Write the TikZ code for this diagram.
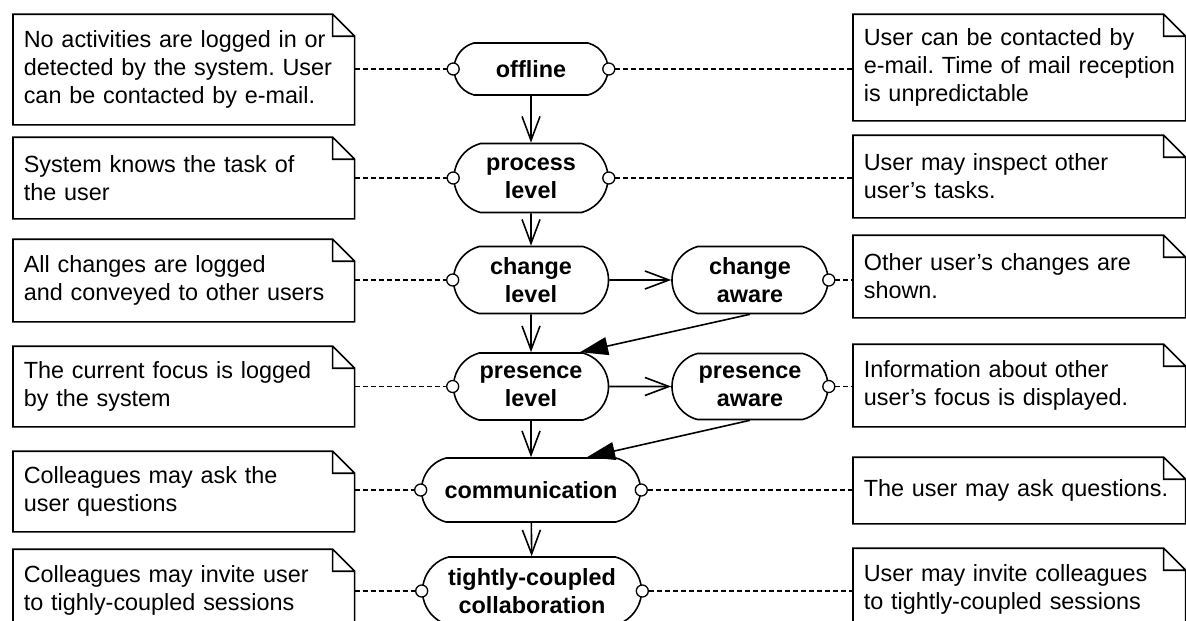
\documentclass[tikz,border=0pt]{standalone}
\usepackage{fontspec}
\setmainfont{Liberation Sans}
\usetikzlibrary{arrows.meta, shapes.misc}
\hyphenpenalty=10000

\begin{document}
\begin{tikzpicture}[x=1pt, y=-1pt, line width=1.6pt,
    font=\fontsize{23.4pt}{28pt}\selectfont\frenchspacing,
    stage/.style={rounded rectangle, rounded rectangle arc length=150, draw, align=center,
      inner sep=2pt, font=\fontsize{23.4pt}{28pt}\selectfont\bfseries},
    note/.style={rectangle, align=left, inner xsep=10pt, inner ysep=0pt},
    port/.style={circle, draw, fill=white, minimum size=12pt, inner sep=0pt, line width=1.3pt},
    link/.style={dash pattern=on 5pt off 3pt, line width=1.3pt},
    flow/.style={-{Straight Barb[length=24pt, width=18pt]}},
    back/.style={-{Triangle[length=28pt, width=18pt]}}]

  \clip (0,0) rectangle (1186,621);

  % activity stages
  \node[stage, minimum width=158pt, minimum height=52pt] (offline) at (531,69) {offline};
  \node[stage, minimum width=158pt, minimum height=69pt] (process) at (531,178) {process\\level};
  \node[stage, minimum width=159pt, minimum height=67pt] (chglevel) at (531,280) {change\\level};
  \node[stage, minimum width=160pt, minimum height=67pt] (chgaware) at (750,280) {change\\aware};
  \node[stage, minimum width=159pt, minimum height=67pt] (preslevel) at (531,386.5) {presence\\level};
  \node[stage, minimum width=160pt, minimum height=66pt] (presaware) at (750,386.5) {presence\\aware};
  \node[stage, minimum width=223pt, minimum height=64pt] (comm) at (531,490) {communication};
  \node[stage, minimum width=223pt, minimum height=68pt] (tight) at (532,591) {tightly-coupled\\collaboration};

  % notes, left column
  \node[note, text width=320pt, minimum height=109pt, anchor=west] (offL) at (13,69.5)
    {No activities are logged in or\\detected by the system. User\\can be contacted by e-mail.};
  \node[note, text width=320pt, minimum height=80pt, anchor=west] (procL) at (13,178)
    {System knows the task of\\the user};
  \node[note, text width=320pt, minimum height=81pt, anchor=west] (chgL) at (13,280.5)
    {All changes are logged\\and conveyed to other users};
  \node[note, text width=320pt, minimum height=79pt, anchor=west] (presL) at (13,386.5)
    {The current focus is logged\\by the system};
  \node[note, text width=320pt, minimum height=79pt, anchor=west] (commL) at (13,491.5)
    {Colleagues may ask the\\user questions};
  \node[note, text width=320pt, minimum height=80pt, anchor=west] (tightL) at (13,590)
    {Colleagues may invite user\\to tighly-coupled sessions};

  % notes, right column
  \node[note, text width=311pt, minimum height=105pt, anchor=west] (offR) at (853,67.5)
    {User can be contacted by\\\mbox{e-mail. Time of mail reception}\\is unpredictable};
  \node[note, text width=311pt, minimum height=81pt, anchor=west] (procR) at (853,176.5)
    {User may inspect other\\user's tasks.};
  \node[note, text width=311pt, minimum height=81pt, anchor=west] (chgR) at (853,276.5)
    {Other user's changes are\\shown.};
  \node[note, text width=311pt, minimum height=81pt, anchor=west] (presR) at (853,385.5)
    {Information about other\\user's focus is displayed.};
  \node[note, text width=311pt, minimum height=65pt, anchor=west] (commR) at (853,490.5)
    {The user may ask questions.};
  \node[note, text width=311pt, minimum height=81pt, anchor=west] (tightR) at (853,589.5)
    {User may invite colleagues\\to tightly-coupled sessions};

  \foreach \n in {offL, procL, chgL, presL, commL, tightL, offR, procR, chgR, presR, commR, tightR}
    \draw (\n.south west) -- (\n.north west) -- ([xshift=-22pt]\n.north east)
      -- ([yshift=-22pt]\n.north east) -- (\n.south east) -- cycle
      ([xshift=-22pt]\n.north east) |- ([yshift=-22pt]\n.north east);

  % ports
  \node[port] (offW) at (offline.west) {};
  \node[port] (offE) at (offline.east) {};
  \node[port] (procW) at (process.west) {};
  \node[port] (procE) at (process.east) {};
  \node[port] (chgW) at (chglevel.west) {};
  \node[port] (chgE) at (chgaware.east) {};
  \node[port] (presW) at (preslevel.west) {};
  \node[port] (presE) at (presaware.east) {};
  \node[port] (commW) at (comm.west) {};
  \node[port] (commE) at (comm.east) {};
  \node[port] (tightW) at (tight.west) {};
  \node[port] (tightE) at (tight.east) {};

  % dashed note links
  \draw[link] (offL.east |- offW) -- (offW);
  \draw[link] (offE) -- (offR.west |- offE);
  \draw[link] (procL.east |- procW) -- (procW);
  \draw[link] (procE) -- (procR.west |- procE);
  \draw[link] (chgL.east |- chgW) -- (chgW);
  \draw[link] (chgE) -- (chgR.west |- chgE);
  \draw[link] (presL.east |- presW) -- (presW);
  \draw[link] (presE) -- (presR.west |- presE);
  \draw[link] (commL.east |- commW) -- (commW);
  \draw[link] (commE) -- (commR.west |- commE);
  \draw[link] (tightL.east |- tightW) -- (tightW);
  \draw[link] (tightE) -- (tightR.west |- tightE);

  % transitions
  \draw[flow] (offline) -- (process);
  \draw[flow] (process) -- (chglevel);
  \draw[flow] (chglevel) -- (preslevel);
  \draw[flow] (preslevel) -- (comm);
  \draw[flow] (comm) -- (tight);
  \draw[flow] (chglevel) -- (chgaware);
  \draw[flow] (preslevel) -- (presaware);
  \draw[back] (chgaware.south) -- ([xshift=49pt]preslevel.north);
  \draw[back] (presaware.south) -- ([xshift=56pt]comm.north);
\end{tikzpicture}
\end{document}
